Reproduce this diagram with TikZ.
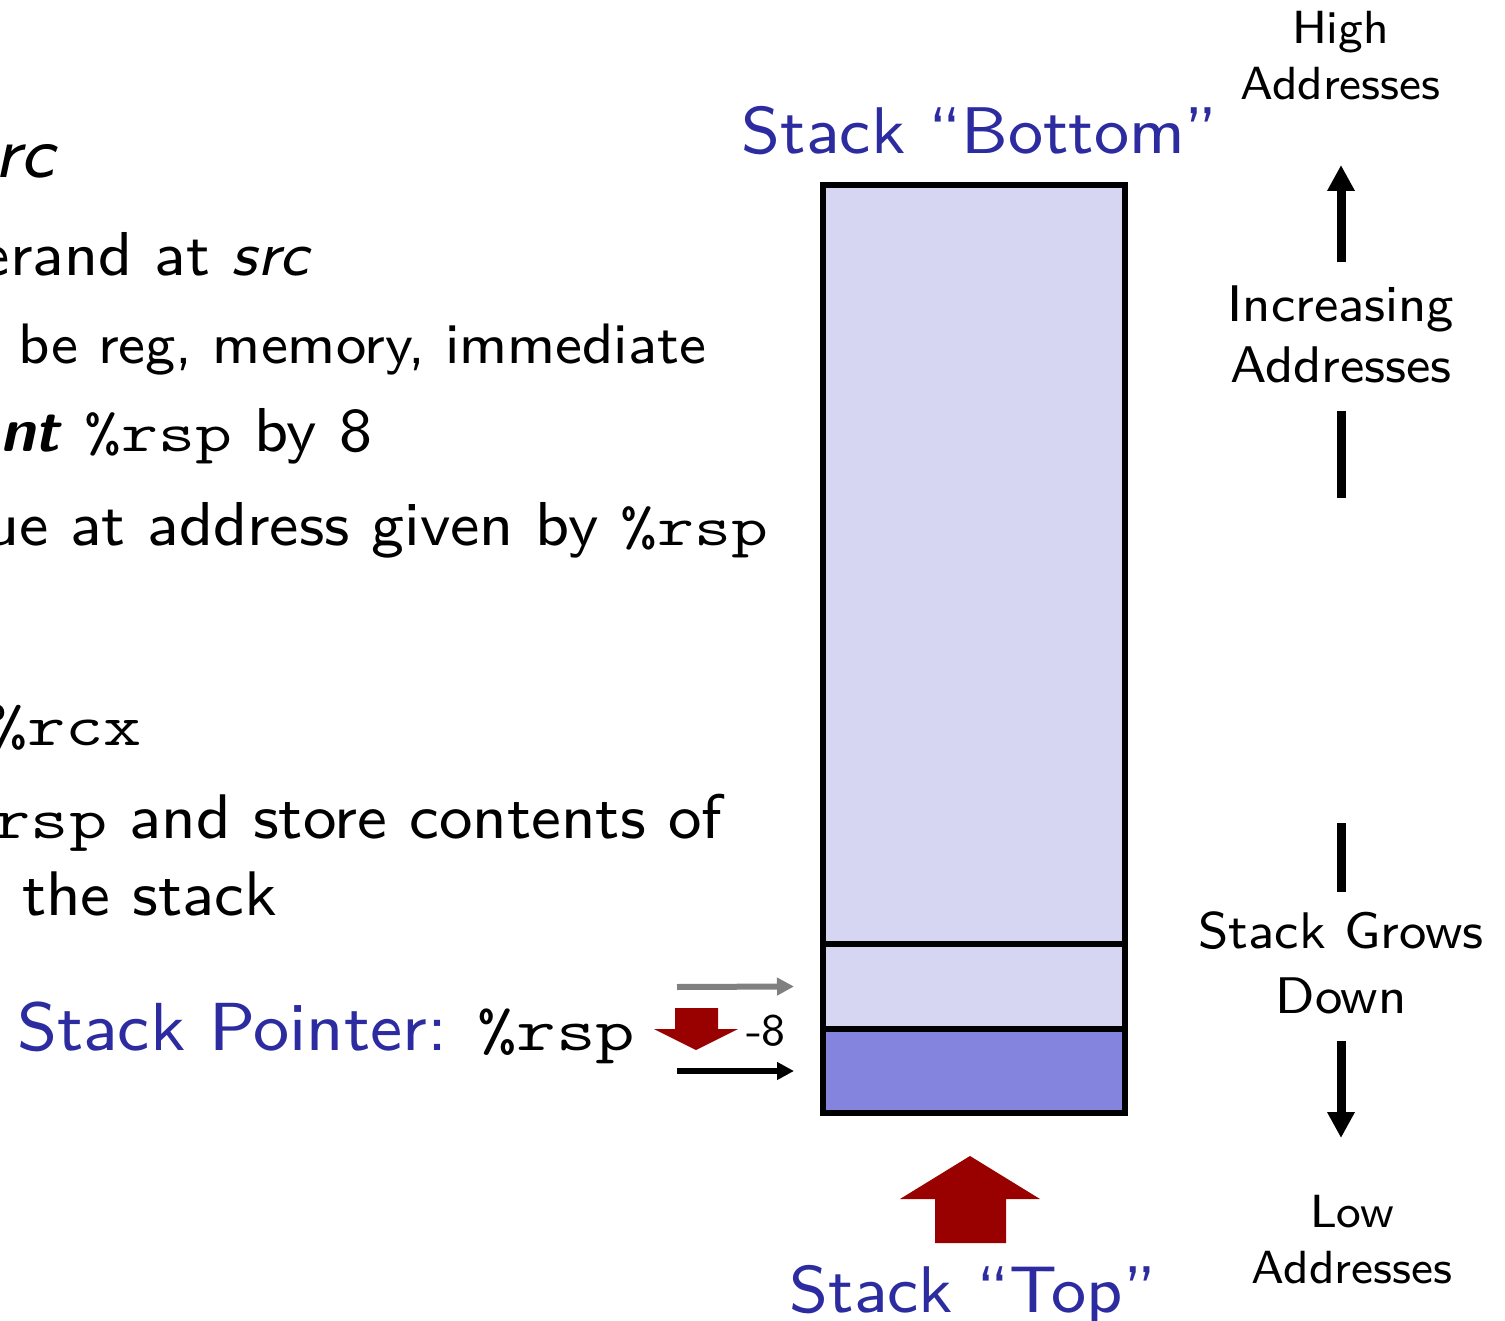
\documentclass[tikz,border=0pt]{standalone}
\usepackage{fontspec}
\setsansfont{lmsans8-regular.otf}[
  ItalicFont=lmsans8-oblique.otf,
  BoldFont=lmsans10-bold.otf,
  BoldItalicFont=lmsans10-boldoblique.otf]
\usepackage{graphicx}
\usetikzlibrary{arrows.meta}

\definecolor{slideblue}{RGB}{44,44,160}
\definecolor{cellfill}{RGB}{214,214,242}
\definecolor{topfill}{RGB}{132,132,222}
\definecolor{pushred}{RGB}{153,0,0}

% font size in points (1pt = 1 unit of the picture)
\newcommand\fsz[1]{\fontsize{#1}{#1}\selectfont}
% register names in a wide typewriter face
\newcommand\reg[2]{{\fontsize{#1}{#1}\selectfont\ttfamily\scalebox{1.28}[1]{#2}}}

\tikzset{
  txt/.style={inner sep=0pt, outer sep=0pt, font=\sffamily},
  cellbox/.style={draw=black, line width=6pt, inner sep=0pt, outer sep=0pt,
    minimum width=302pt, anchor=north west},
  ptrarrow/.style={line width=6pt, -{Triangle[length=17pt,width=17pt]}},
  dirline/.style={line width=9pt},
  dirarrow/.style={line width=9pt, -{Triangle[length=26pt,width=26pt]}},
  blockarrow/.style={fill=pushred, draw=none},
}

\begin{document}
\begin{tikzpicture}[x=1pt, y=-1pt]
\useasboundingbox (0,0) rectangle (1505,1321);

% ---- bullet text (left column) ----
\node[txt, anchor=base east] (l1) at (58,178) {\fsz{72}\textit{rc}};
\node[txt, anchor=base east] (l2) at (312,276) {\fsz{62}erand at \textit{src}};
\node[txt, anchor=base west] (l3) at (18,364) {\fsz{57}be reg, memory, immediate};
\node[txt, anchor=base east] (l4) at (372,452)
  {\fsz{62}\textbf{\textit{nt}} \reg{56}{\%rsp} by 8};
\node[txt, anchor=base east] (l5) at (768,545)
  {\fsz{62}ue at address given by \reg{56}{\%rsp}};
\node[txt, anchor=base east] (l6) at (142,745) {\reg{58}{\%rcx}};
\node[txt, anchor=base east] (l7) at (722,838)
  {\fsz{63}\reg{58}{rsp} and store contents of};
\node[txt, anchor=base west] (l8) at (22,915) {\fsz{63}the stack};

% ---- stack pointer label ----
\node[txt, anchor=base west, text=slideblue] (splbl) at (17,1050) {\fsz{68}Stack Pointer:};
\node[txt, anchor=base west] (spreg) at (477,1050) {\reg{60}{\%rsp}};
\node[txt, anchor=base west] (dec) at (746,1045) {\fsz{45}-8};

% ---- the stack ----
\node[cellbox, fill=cellfill, minimum height=759pt] (cell1) at (822.5,185) {};
\node[cellbox, fill=cellfill, minimum height=85pt] (cell2) at (822.5,944) {};
\node[cellbox, fill=topfill, minimum height=84pt] (cell3) at (822.5,1029) {};

\node[txt, anchor=base, text=slideblue] (bottomlbl) at (980,154) {\fsz{66}Stack “Bottom”};
\node[txt, anchor=base, text=slideblue] (toplbl) at (973,1312) {\fsz{66}Stack “Top”};

% old and new stack pointer
\coordinate (oldsp) at (677,987);
\coordinate (newsp) at (677,1071);
\draw[ptrarrow, gray] (oldsp) -- ([xshift=-28.5pt]cell2.west);
\draw[ptrarrow, black] (newsp) -- ([xshift=-28.5pt]cell3.west);

% decrement arrow
\path[blockarrow] (675,1008) -- (718,1008) -- (718,1029) -- (738,1029)
  -- (696,1050) -- (654,1029) -- (675,1029) -- cycle;

% stack top marker
\path[blockarrow] (935,1243) -- (1006,1243) -- (1006,1199) -- (1040,1199)
  -- (970,1156) -- (900,1199) -- (935,1199) -- cycle;

% ---- address direction (right column) ----
\node[txt, anchor=base] (hi1) at (1340.5,44) {\fsz{46.5}High};
\node[txt, anchor=base] (hi2) at (1340.5,100) {\fsz{46.5}Addresses};
\node[txt, anchor=base] (inc1) at (1341,322) {\fsz{51.5}Increasing};
\node[txt, anchor=base] (inc2) at (1341,383) {\fsz{51.5}Addresses};
\node[txt, anchor=base] (grow1) at (1341,948) {\fsz{51.5}Stack Grows};
\node[txt, anchor=base] (grow2) at (1341,1013) {\fsz{51.5}Down};
\node[txt, anchor=base] (lo1) at (1352,1227) {\fsz{46.5}Low};
\node[txt, anchor=base] (lo2) at (1352,1283) {\fsz{46.5}Addresses};

\coordinate (upbase) at (1341,262);
\coordinate (uptip) at (1341,165);
\coordinate (seg1a) at (1341,411);
\coordinate (seg1b) at (1341,498);
\coordinate (seg2a) at (1341,823);
\coordinate (seg2b) at (1341,892);
\coordinate (dnbase) at (1341,1041);
\coordinate (dntip) at (1341,1138);

\draw[dirarrow] (upbase) -- (uptip);
\draw[dirline] (seg1a) -- (seg1b);
\draw[dirline] (seg2a) -- (seg2b);
\draw[dirarrow] (dnbase) -- (dntip);
\end{tikzpicture}
\end{document}
